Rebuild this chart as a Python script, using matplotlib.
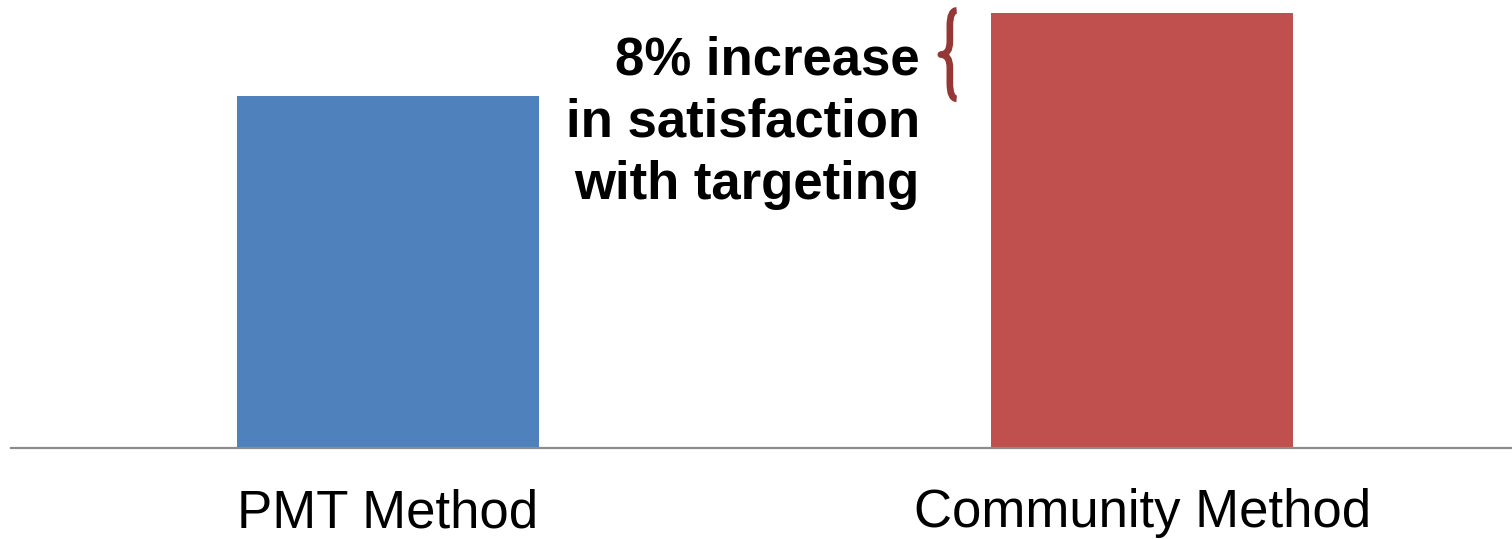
import matplotlib.pyplot as plt
from matplotlib.path import Path
from matplotlib.patches import PathPatch

plt.rcParams['font.family'] = ['Liberation Sans', 'DejaVu Sans']

categories = ['PMT Method', 'Community Method']
values = [0.809, 1.0]
colors = ['#4F81BD', '#C0504D']
note = '8% increase\nin satisfaction\nwith targeting'

fig = plt.figure(figsize=(15.12, 5.39), dpi=100)
ax = fig.add_axes([10.5 / 1512, 1 - 448 / 539, 1509 / 1512, 448 / 539])

x = range(len(categories))
ax.bar(x, values, width=0.4, color=colors)
ax.set_xlim(-0.5, 1.5)
ax.set_ylim(0, 1.03)

for s in ['top', 'right', 'left']:
    ax.spines[s].set_visible(False)
ax.spines['bottom'].set_color('#8c8c8c')
ax.spines['bottom'].set_linewidth(1.6)
ax.set_yticks([])
ax.set_xticks(list(x))
ax.set_xticklabels(categories, fontsize=38)
ax.tick_params(axis='x', length=0, pad=29)

# brace between the two bar heights
lo, hi = values[0], values[1]
xb = 0.745
mid = (lo + hi) / 2
r = 0.03
verts = [
    (xb + 0.009, hi + 0.006), (xb, hi + 0.006), (xb, hi - r),
    (xb, mid + r), (xb, mid), (xb - 0.012, mid),
    (xb, mid), (xb, mid - r),
    (xb, lo + r), (xb, lo - 0.006), (xb + 0.009, lo - 0.006),
]
codes = [Path.MOVETO, Path.CURVE3, Path.CURVE3,
         Path.LINETO, Path.CURVE3, Path.CURVE3,
         Path.CURVE3, Path.CURVE3,
         Path.LINETO, Path.CURVE3, Path.CURVE3]
ax.add_patch(PathPatch(Path(verts, codes), fill=False, edgecolor='#953735',
                       lw=4.8, capstyle='butt', joinstyle='round'))

ax.text(0.705, 0.948, note, fontsize=38, fontweight='bold', ha='right',
        va='top', multialignment='right', linespacing=1.31)

fig.savefig('out.png', dpi=100)
